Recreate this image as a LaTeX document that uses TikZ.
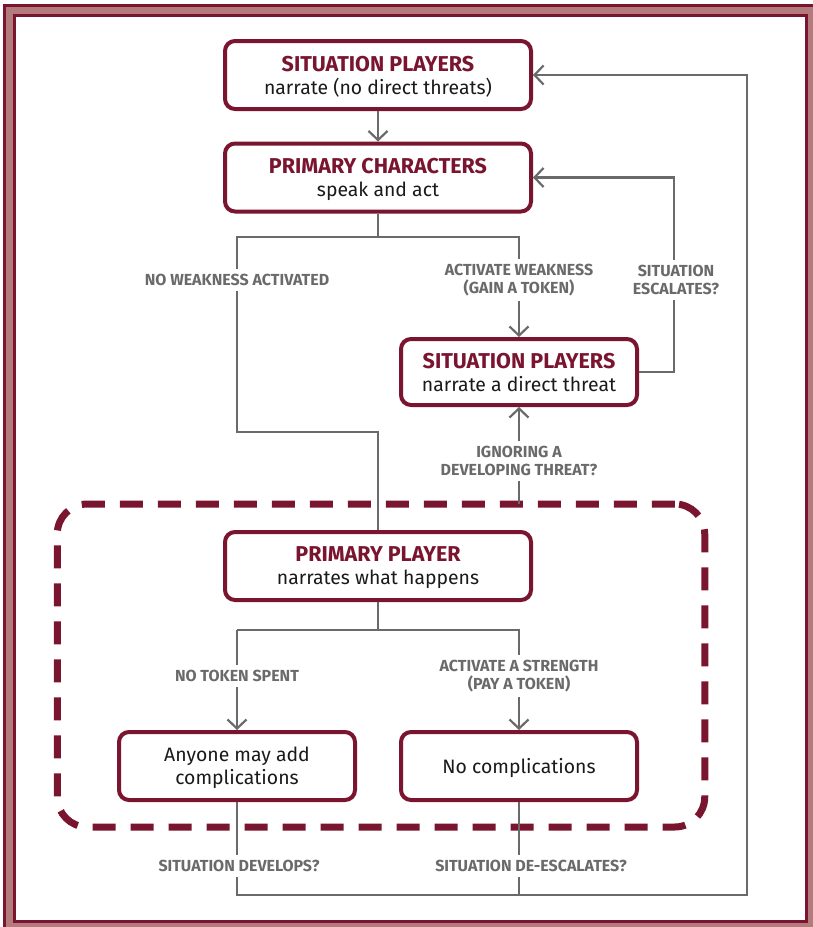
\documentclass[tikz,border=0pt]{standalone}
\usepackage{fontspec}
\setmainfont{Fira Sans}
\usetikzlibrary{arrows.meta}
\definecolor{maroon}{HTML}{7A1530}
\definecolor{bandpink}{HTML}{B47B7C}
\definecolor{linegray}{HTML}{6A6A6A}
\definecolor{textblack}{HTML}{1A1A1A}
\newcommand{\boxtitle}[1]{{\color{maroon}\fontsize{21.5}{23}\selectfont\bfseries #1}}

\begin{document}
\begin{tikzpicture}
[x=1pt,y=-1pt,
  boxDecorate/.style={draw=maroon,line width=4pt,rounded corners=10pt,fill=white,
    align=center,inner sep=0pt,text depth=0pt,text=textblack,font=\fontsize{19.4}{23}\selectfont},
  wideBox/.style={boxDecorate,minimum width=306pt,minimum height=68pt},
  narrowBox/.style={boxDecorate,minimum width=236pt,minimum height=66pt},
  lineDecorate/.style={draw=linegray,line width=2.2pt},
  arrowDecorate/.style={lineDecorate,-{Straight Barb[length=9pt,width=19pt]}},
  labelDecorate/.style={fill=white,text=linegray,align=center,inner xsep=3pt,
    inner ysep=5pt,font=\fontsize{16}{18}\selectfont\bfseries},
  zoneDecorate/.style={draw=maroon,line width=7pt,dash pattern=on 23pt off 15pt,
    rounded corners=30pt,inner sep=0pt,outer sep=0pt}]
\useasboundingbox (0,0) rectangle (813,927);
%% frame
\draw[maroon,line width=2.5pt,fill=bandpink] (4.5,5.5) rectangle (816,931);
\draw[maroon,line width=2.5pt,fill=white] (14.5,15.5) rectangle (806.5,921.5);
%% dashed zone round the primary player
\node (zone) at (381,665.5) [zoneDecorate,minimum width=647.5pt,minimum height=323pt] {};
%% boxes
\node (sp1) at (378,75) [wideBox] {\boxtitle{SITUATION PLAYERS}\\narrate (no direct threats)};
\node (pc) at (378,177.5) [wideBox] {\boxtitle{PRIMARY CHARACTERS}\\speak and act};
\node (spt) at (519,372) [narrowBox] {\boxtitle{SITUATION PLAYERS}\\narrate a direct threat};
\node (pp) at (378,566) [wideBox] {\boxtitle{PRIMARY PLAYER}\\narrates what happens};
\node (anyone) at (237,766) [narrowBox,minimum height=68pt] {Anyone may add\\complications};
\node (nocomp) at (519,766) [narrowBox,minimum height=68pt] {No complications};
%% corner points
\coordinate (nwL) at (237,237);
\coordinate (nwB) at (237,432);
\coordinate (escX) at (674,177.5);
\coordinate (ntL) at (237,630);
\coordinate (loopL) at (237,895);
\coordinate (loopR) at (747,895);
%% connectors
\draw[arrowDecorate] (sp1) -- (pc);
\draw[lineDecorate] (pc.south) |- (nwL) -- (nwB) -| (pp.north);
\draw[arrowDecorate] (pc.south |- nwL) -| (spt.north);
\draw[arrowDecorate] (spt.east) -| (escX) -- (pc.east);
\draw[arrowDecorate] (spt.south |- zone.north) -- (spt.south);
\draw[lineDecorate] (pp.south) |- (ntL);
\draw[arrowDecorate] (ntL) -- (anyone.north);
\draw[arrowDecorate] (pp.south |- ntL) -| (nocomp.north);
\draw[arrowDecorate] (anyone.south) -- (loopL) -- (loopR) |- (sp1.east);
\draw[lineDecorate] (nocomp.south) -- (nocomp.south |- loopL);
%% labels on the connectors
\foreach \nodename/\x/\y/\labeltext in {
  nwLabel/237/280/{NO WEAKNESS ACTIVATED},
  awLabel/519/280/{ACTIVATE WEAKNESS\\(GAIN A TOKEN)},
  escLabel/676/280/{SITUATION\\ESCALATES?},
  ignLabel/519/461/{IGNORING A\\DEVELOPING THREAT?},
  ntLabel/237/676/{NO TOKEN SPENT},
  asLabel/519/676/{ACTIVATE A STRENGTH\\(PAY A TOKEN)},
  devLabel/239/866/{SITUATION DEVELOPS?},
  desLabel/531/866/{SITUATION DE-ESCALATES?}}
{
  \node (\nodename) at (\x,\y) [labelDecorate] {\labeltext};
}
\end{tikzpicture}
\end{document}
